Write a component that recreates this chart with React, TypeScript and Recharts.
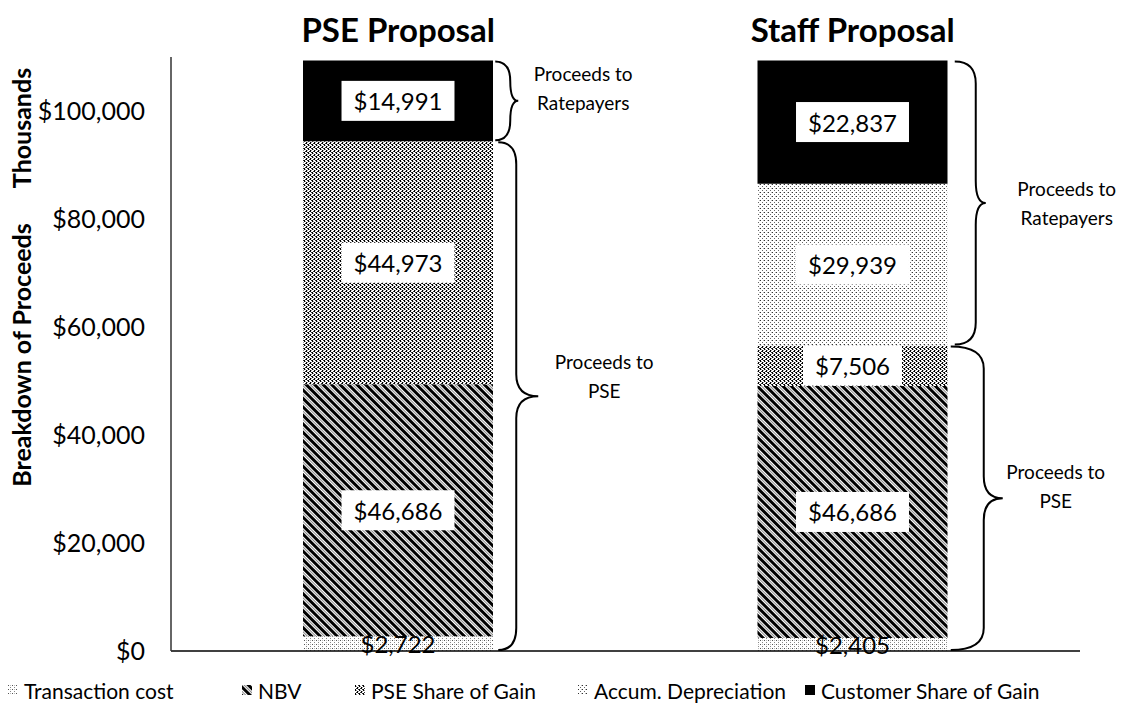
import React from 'react'
import { BarChart, Bar, XAxis, YAxis, LabelList, ReferenceArea, ReferenceLine, Legend } from 'recharts'

const categories = ['PSE Proposal', 'Staff Proposal']
const transactionCost = [2722, 2405]
const nbv = [46686, 46686]
const pseShareOfGain = [44973, 7506]
const accumDepreciation = [0, 29939]
const customerShareOfGain = [14991, 22837]
const yTicks = [0, 20000, 40000, 60000, 80000, 100000]

const FONT = 'Lato, "Open Sans", sans-serif'
const BAR = 190

const series = [
  { key: 'transaction', name: 'Transaction cost', fill: 'url(#pTrans)', values: transactionCost, boxed: false },
  { key: 'nbv', name: 'NBV', fill: 'url(#pNbv)', values: nbv, boxed: true },
  { key: 'pseShare', name: 'PSE Share of Gain', fill: 'url(#pPse)', values: pseShareOfGain, boxed: true },
  { key: 'accum', name: 'Accum. Depreciation', fill: 'url(#pAccum)', values: accumDepreciation, boxed: true },
  { key: 'customer', name: 'Customer Share of Gain', fill: '#000', values: customerShareOfGain, boxed: true },
]

const data = categories.map((category, i) => {
  const row: Record<string, any> = { category }
  series.forEach((s) => (row[s.key] = s.values[i]))
  return row
})

// brace spans: PSE part = transaction + NBV + PSE share, ratepayers = the rest
const pseSum = categories.map((_, i) => transactionCost[i] + nbv[i] + pseShareOfGain[i])
const totals = categories.map((_, i) => pseSum[i] + accumDepreciation[i] + customerShareOfGain[i])

const braces = [
  { cat: categories[0], y1: pseSum[0], y2: totals[0], lines: ['Proceeds to', 'Ratepayers'], gap: 2, depth: 15, tip: 8, dx: 65, dy: -13 },
  { cat: categories[0], y1: 0, y2: pseSum[0], lines: ['Proceeds to', 'PSE'], gap: 5, depth: 18, tip: 22, dx: 66, dy: -20 },
  { cat: categories[1], y1: pseSum[1], y2: totals[1], lines: ['Proceeds to', 'Ratepayers'], gap: 7, depth: 21, tip: 10, dx: 81, dy: 0 },
  { cat: categories[1], y1: 0, y2: pseSum[1], lines: ['Proceeds to', 'PSE'], gap: 3, depth: 33, tip: 19, dx: 53, dy: -12 },
]

const legendLeft = [8, 242, 355, 578, 805]

const fmt = (v: number) => '$' + v.toLocaleString('en-US')

let ctx: CanvasRenderingContext2D | null = null
function textWidth(text: string, font: string) {
  if (!ctx) ctx = document.createElement('canvas').getContext('2d')
  if (!ctx) return text.length * 13
  ctx.font = font
  return ctx.measureText(text).width
}

function SegmentLabel(props: any) {
  const { value, boxed } = props
  if (!value) return null
  const vb = props.viewBox && props.viewBox.width != null ? props.viewBox : props
  const x = Number(vb.x)
  const w = Number(vb.width)
  const h = Number(vb.height)
  const y = h < 0 ? Number(vb.y) + h : Number(vb.y)
  const cx = x + w / 2
  const cy = y + Math.abs(h) / 2
  const text = fmt(value)
  const tw = textWidth(text, `24px ${FONT}`)
  return (
    <g>
      {boxed && <rect x={cx - tw / 2 - 12} y={cy - 20} width={tw + 24} height={40} fill="#fff" />}
      <text x={cx} y={cy} textAnchor="middle" dominantBaseline="central" fontSize={24} fontFamily={FONT} fill="#000">
        {text}
      </text>
    </g>
  )
}

function Brace({ x, y, width, height, b }: any) {
  const right = x + width / 2 + BAR / 2
  const x0 = right + b.gap
  const xv = x0 + b.depth
  const xt = xv + b.tip
  const top = y + 1
  const bot = y + height - 1
  const mid = (top + bot) / 2
  const r = Math.min(22, (bot - top) / 4)
  const d = `M${x0},${top} Q${xv},${top} ${xv},${top + r} L${xv},${mid - r} Q${xv},${mid} ${xt},${mid} Q${xv},${mid} ${xv},${mid + r} L${xv},${bot - r} Q${xv},${bot} ${x0},${bot}`
  const tx = xt + b.dx
  const ty = mid + b.dy
  return (
    <g>
      <path d={d} fill="none" stroke="#000" strokeWidth={2} />
      <text x={tx} textAnchor="middle" fontSize={19} fontFamily={FONT} fill="#000">
        <tspan x={tx} y={ty - 14.5} dominantBaseline="central">{b.lines[0]}</tspan>
        <tspan x={tx} y={ty + 14.5} dominantBaseline="central">{b.lines[1]}</tspan>
      </text>
    </g>
  )
}

function TitleTick({ x, y, payload }: any) {
  return (
    <text x={x} y={y} dy={-7} textAnchor="middle" fontSize={33} fontWeight={700} fontFamily={FONT} fill="#000">
      {payload.value}
    </text>
  )
}

function LegendContent() {
  return (
    <div style={{ position: 'relative', width: 1130, height: 30, fontFamily: FONT, fontSize: 21, color: '#000' }}>
      {series.map((s, i) => (
        <div key={s.key} style={{ position: 'absolute', left: legendLeft[i], top: 0, height: 30, display: 'flex', alignItems: 'center', whiteSpace: 'nowrap' }}>
          <svg width={10} height={10} style={{ marginRight: 6 }}>
            <rect x={0} y={0} width={10} height={10} fill={s.fill} />
          </svg>
          <span>{s.name}</span>
        </div>
      ))}
    </div>
  )
}

export default function App() {
  return (
    <div style={{ position: 'absolute', left: 0, top: 0, width: 1130, height: 715, background: '#fff', fontFamily: FONT }}>
      <svg width={0} height={0} style={{ position: 'absolute' }}>
        <defs>
          <pattern id="pTrans" width={4} height={4} patternUnits="userSpaceOnUse">
            <rect width={4} height={4} fill="#fff" />
            <rect x={0} y={0} width={1} height={1} fill="#555" />
            <rect x={2} y={2} width={1} height={1} fill="#888" />
            <rect x={2} y={0} width={1} height={1} fill="#bbb" />
          </pattern>
          <pattern id="pNbv" width={6} height={6} patternUnits="userSpaceOnUse" patternTransform="rotate(45)">
            <rect width={6} height={6} fill="#fff" />
            <rect x={0} y={0} width={6} height={3} fill="#000" />
            <rect x={0} y={4} width={6} height={1} fill="#888" />
          </pattern>
          <pattern id="pPse" width={4} height={4} patternUnits="userSpaceOnUse">
            <rect width={4} height={4} fill="#fff" />
            <rect x={0} y={0} width={1} height={2} fill="#000" />
            <rect x={2} y={2} width={1} height={2} fill="#000" />
            <rect x={1} y={3} width={1} height={1} fill="#333" />
            <rect x={3} y={0} width={1} height={1} fill="#333" />
            <rect x={1} y={1} width={1} height={1} fill="#999" />
            <rect x={3} y={2} width={1} height={1} fill="#999" />
          </pattern>
          <pattern id="pAccum" width={4} height={4} patternUnits="userSpaceOnUse">
            <rect width={4} height={4} fill="#fff" />
            <rect x={0} y={0} width={1} height={1} fill="#333" />
            <rect x={2} y={2} width={1} height={1} fill="#666" />
            <rect x={3} y={0} width={1} height={1} fill="#bbb" />
          </pattern>
        </defs>
      </svg>
      <BarChart width={1130} height={715} data={data} barSize={BAR} margin={{ top: 0, right: 50, left: 0, bottom: 34 }}>
        <XAxis dataKey="category" orientation="top" height={57} axisLine={false} tickLine={false} tick={<TitleTick />} />
        <YAxis
          domain={[0, 110000]}
          ticks={yTicks}
          tickFormatter={fmt}
          width={171}
          axisLine={{ stroke: '#333', strokeWidth: 1.5 }}
          tickLine={false}
          tickMargin={20}
          tick={{ fontSize: 25, fill: '#000', fontFamily: FONT }}
        />
        <Legend verticalAlign="bottom" content={<LegendContent />} wrapperStyle={{ left: 0, top: 675, width: 1130, height: 30 }} />
        {series.map((s) => (
          <Bar key={s.key} dataKey={s.key} name={s.name} stackId="a" fill={s.fill} isAnimationActive={false}>
            <LabelList dataKey={s.key} content={(p: any) => <SegmentLabel {...p} boxed={s.boxed} />} />
          </Bar>
        ))}
        <ReferenceLine y={0} stroke="#000" strokeWidth={1.5} />
        {braces.map((b, i) => (
          <ReferenceArea
            key={i}
            x1={b.cat}
            x2={b.cat}
            y1={b.y1}
            y2={b.y2}
            fill="none"
            stroke="none"
            shape={(p: any) => <Brace {...p} b={b} />}
          />
        ))}
      </BarChart>
      <svg width={60} height={600} style={{ position: 'absolute', left: 0, top: 0, pointerEvents: 'none' }}>
        <text transform="translate(21,128) rotate(-90)" textAnchor="middle" dominantBaseline="central" fontSize={25} fontWeight={700} fontFamily={FONT} fill="#000">
          Thousands
        </text>
        <text transform="translate(21,355) rotate(-90)" textAnchor="middle" dominantBaseline="central" fontSize={25} fontWeight={700} fontFamily={FONT} fill="#000">
          Breakdown of Proceeds
        </text>
      </svg>
    </div>
  )
}
